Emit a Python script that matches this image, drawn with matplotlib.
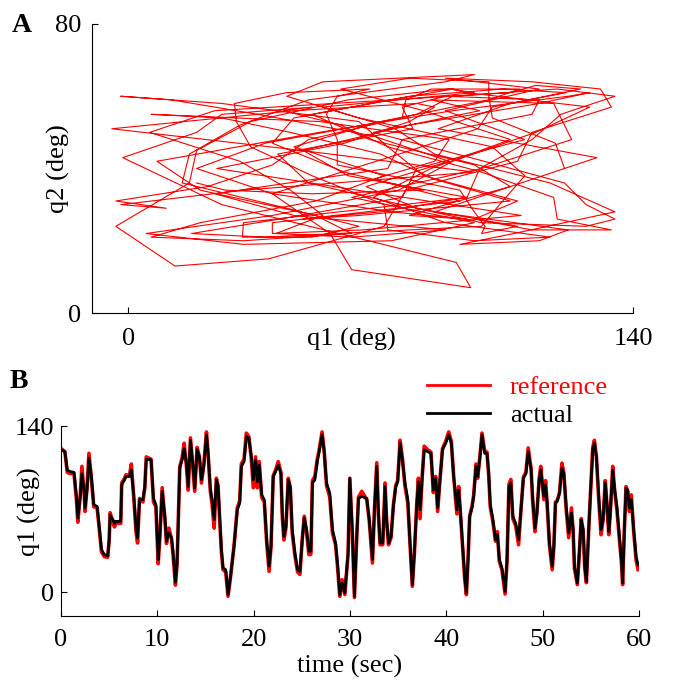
import matplotlib.pyplot as plt
import numpy as np

# time samples (sec)
t = [0.0, 0.4, 0.65, 0.9, 1.35, 1.6, 1.75, 2.0, 2.17, 2.4, 2.5, 2.7, 2.9, 3.15, 3.4, 3.75, 4.0, 4.2, 4.5, 4.85,
     5.0, 5.1, 5.4, 5.55, 5.7, 6.2, 6.3, 6.6, 6.75, 7.1, 7.3, 7.55, 7.8, 7.95, 8.15, 8.5, 8.7, 8.85, 9.35, 9.6, 9.85,
     10.09, 10.26, 10.5, 10.78, 10.95, 11.2, 11.47, 11.64, 11.88, 12.05, 12.33, 12.57, 12.78, 13.02, 13.2, 13.44,
     13.68, 13.88, 14.13, 14.37, 14.58, 14.82, 15.1, 15.27, 15.5, 15.68, 15.9, 16.13, 16.3, 16.47, 16.65, 16.82,
     17.1, 17.34, 17.6, 17.96, 18.3, 18.55, 18.72, 19.0, 19.24, 19.5, 19.76,
     19.96, 20.2, 20.38, 20.58, 20.83, 21.1, 21.35, 21.6, 21.8, 22.03, 22.28, 22.55, 22.83, 22.97, 23.14, 23.35,
     23.59, 23.8, 24.0, 24.28, 24.56, 24.8, 25.04, 25.25, 25.49, 25.73, 25.94, 26.1, 26.35, 26.6, 26.8, 27.1, 27.32,
     27.56, 27.9, 28.18, 28.5, 28.7, 28.94, 29.18, 29.46, 29.8,
     29.98, 30.25, 30.46, 30.7, 30.88, 31.22, 31.74, 32.0, 32.33, 32.54, 32.78, 32.95, 33.12, 33.4, 33.64, 33.8,
     34.0, 34.26, 34.5, 34.75, 34.95, 35.2, 35.44, 35.7, 36.0, 36.23, 36.47, 36.68, 36.92, 37.1, 37.27, 37.5, 37.7,
     38.06, 38.4, 38.65, 38.89, 39.1, 39.34, 39.6, 39.93,
     40.25, 40.52, 40.76, 40.94, 41.1, 41.28, 41.45, 41.7, 41.9, 42.08, 42.25, 42.42, 42.66, 42.84, 43.08, 43.25,
     43.46, 43.7, 43.98, 44.22, 44.4, 44.56, 44.84, 45.1, 45.3, 45.5, 45.77, 46.1, 46.3, 46.5, 46.7, 46.9, 47.2,
     47.5, 47.77, 48.0, 48.26, 48.5, 48.8, 48.95, 49.2, 49.4, 49.64, 49.8,
     50.0, 50.12, 50.3, 50.47, 50.7, 50.99, 51.16, 51.33, 51.5, 51.75, 52.0, 52.2, 52.44, 52.7, 52.99, 53.16,
     53.3, 53.6, 53.8, 54.0, 54.2, 54.37, 54.54, 54.78, 55.0, 55.2, 55.37, 55.58, 55.82, 56.06, 56.27, 56.5, 56.7,
     56.86, 57.0, 57.27, 57.48, 57.7, 57.96, 58.17, 58.3, 58.48, 58.65, 58.83, 59.0, 59.2, 59.45, 59.7, 59.9]

# q1 reference (red)
q1_ref = [121, 118.5, 101, 100, 100, 78, 59, 82, 106, 84, 68, 88, 117, 96, 72, 71, 51, 34, 30, 29.5,
          44, 67, 58, 55, 58, 58, 92, 96, 99, 98, 108, 80, 50, 41.5, 79, 76, 88, 114, 112, 76, 72,
          24, 46, 88, 62, 41, 54, 45, 31, 6, 24, 106, 113, 125.5, 106, 86, 130,
          106, 85, 122, 114, 92, 107, 135, 117, 85, 74, 54, 96, 89, 61, 34, 19,
          17, -3.4, 13, 39, 71, 77, 108, 112, 134, 131, 112,
          88, 114, 88, 110, 80, 76, 42, 17.6, 38, 98, 103, 110, 101, 64, 44, 54,
          96, 88, 50, 31, 17, 15, 44, 64, 51, 31.7, 32, 94, 97.5, 112, 120, 135, 119,
          90, 80, 50, 40, 22, -3.4, 10.6, -2, 32,
          96, 48, -4.5, 46, 80, 85, 78, 60, 24.6, 70, 109, 65, 40, 40, 92, 60,
          40, 46, 73, 90, 94, 128, 113, 90, 75, 40, 5, 32, 73, 96, 62, 98, 123,
          120, 118, 84, 97.5, 68, 95, 121, 127,
          135, 127, 98, 80, 66, 89, 68, 36, 12, -2, 26, 64, 72, 82, 108, 96,
          112, 134, 119, 118, 98, 72, 59, 43, 51, 26, 19, -1.5, 26, 91, 95, 62, 56,
          40, 72, 97, 101, 121.5, 104, 78, 51, 67, 96, 106,
          88, 78, 94, 73, 40, 19, 38, 76, 77, 84, 108.7, 100, 70, 46, 71, 52,
          20, 6.4, 32, 62, 52, 20, 8, 53, 90, 122, 128, 114, 78, 48.5, 61, 94, 70,
          48.5, 64, 106, 85, 70, 45, 26, 6.4, 53, 89, 85, 68, 82, 51, 27, 19]

# q1 actual (black)
q1_act = [120, 118.5, 103, 101.7, 101, 80.7, 62.5, 80.7, 100, 86, 71, 86, 113, 97.5, 73.7, 72.3, 52.7, 36, 31.7, 30.8,
          44, 65, 61, 58, 59.7, 59.7, 90.5, 94.7, 97.5, 97.5, 103, 82, 52.7, 45.6, 78, 78, 89, 112, 111.5, 79, 73.7,
          27.5, 47, 85, 64, 43, 50, 45.7, 33, 8.4, 24.6, 104.5, 111.5, 121, 108.7, 89, 128,
          108.7, 87.7, 120, 114, 94.7, 106, 132.5, 117, 87.7, 78, 61, 94.7, 90.5, 64, 36, 20.4,
          19, -2, 13.4, 38.7, 69.5, 75, 106, 110, 131, 129.7, 114,
          94.7, 111.5, 93, 107, 82, 78, 44, 22, 38.7, 97.5, 101.7, 107, 100, 66.7, 47, 55.5,
          94.7, 89, 52.7, 33, 19, 17.6, 44, 62.5, 52.7, 34.5, 34.5, 92, 94.7, 110, 118.5, 132.5, 118.5,
          92, 83.5, 52.7, 41.5, 24.6, -2, 7.8, -0.6, 33,
          96, 50, -3.4, 47, 79, 80.7, 79, 61, 27.5, 69.5, 106, 66.7, 41.5, 41.5, 89, 61,
          41.5, 47, 72.3, 89, 93, 125.5, 111.5, 92, 78, 41.5, 6.4, 33, 72.3, 93, 69.5, 97.5, 120,
          118.5, 117, 86, 96, 71, 94.7, 120, 125.5,
          132.5, 125.5, 97.5, 83.5, 69.5, 86, 69.5, 38.7, 13.4, -0.6, 27.5, 64, 71, 80.7, 106, 97.5,
          111.5, 132.5, 117, 117, 100, 73.7, 61, 44.3, 48.5, 27.5, 20.4, 0.8, 27.5, 89, 92, 64, 58,
          44.3, 72.3, 96, 100, 118.5, 103, 80.7, 54, 66.7, 94.7, 103,
          89, 80.7, 90.5, 75, 41.5, 21.8, 38.7, 75, 76.5, 83.5, 104.5, 100, 72.3, 50, 66.7, 52.7,
          21.8, 7.8, 33, 61, 52.7, 21.8, 9.2, 52.7, 89, 120, 125.5, 114, 80.7, 52.7, 61, 92, 72.3,
          51, 64, 103, 86, 72.3, 47, 27.5, 7.8, 52.7, 87.7, 86, 71, 78, 52.7, 30, 23]

# q2 reference (estimated from the loops in panel A)
q2_ref = [40, 47, 54, 60, 64, 65, 62, 56, 48, 40, 32, 25, 21, 20, 23, 30, 38, 46, 53, 58,
          61, 62, 60, 55, 48, 41, 34, 28, 24, 22, 24, 29, 36, 44, 51, 57, 60, 59, 55, 48, 40,
          33, 27, 23, 21, 22, 27, 34, 42, 50, 56, 61, 63, 62, 58, 51, 43,
          35, 28, 23, 20, 19, 22, 28, 36, 44, 51, 57, 61, 62, 59, 53, 45,
          36, 24, 13, 15, 24, 34, 42, 50, 57, 62, 64,
          65, 62, 56, 48, 40, 32, 26, 22, 21, 24, 30, 38, 46, 54, 60, 64,
          66, 64, 59, 52, 44, 36, 29, 24, 21, 21, 25, 32, 40, 48, 55, 60, 62,
          60, 55, 48, 41, 35, 31, 29, 30, 34,
          39, 45, 51, 56, 58, 57, 53, 47, 40, 33, 27, 23, 22, 25, 31, 39,
          47, 54, 59, 62, 61, 57, 50, 42, 34, 27, 22, 19, 20, 25, 32, 40, 48,
          54, 58, 59, 56, 50, 43, 36, 30,
          26, 24, 25, 29, 35, 42, 49, 55, 59, 60, 58, 53, 46, 38, 31, 26,
          23, 23, 26, 32, 39, 46, 52, 56, 57, 55, 50, 43, 30, 14, 7, 12, 22,
          33, 43, 51, 57, 61, 62, 60, 55, 48, 41, 35,
          30, 27, 26, 28, 33, 40, 47, 54, 59, 62, 62, 59, 53, 46, 38, 31,
          25, 21, 20, 22, 27, 34, 42, 50, 56, 60, 61, 58, 52, 45, 38, 32, 28,
          26, 27, 31, 37, 44, 50, 54, 55, 53, 48, 42, 37, 34, 33, 34, 36]

plt.rcParams['font.family'] = ['Liberation Serif', 'DejaVu Serif']
plt.rcParams['font.size'] = 19

fig = plt.figure(figsize=(6.78, 6.88), dpi=100)

# ---- panel A ----
axA = fig.add_axes([92/678, 1 - 313/688, 541/678, 289/688])
axA.plot(q1_ref, q2_ref, color='red', lw=0.8)
axA.set_xlim(-10, 140)
axA.set_ylim(0, 80)
axA.set_xticks([0, 140])
axA.set_yticks([0, 80])
axA.tick_params(direction='in', length=4.5, width=0.8)
axA.tick_params(axis='x', pad=11)
axA.tick_params(axis='y', pad=8)
for s in ['top', 'right']:
    axA.spines[s].set_visible(False)
axA.set_xlabel('q1 (deg)')
axA.xaxis.set_label_coords(0.48, -0.05)
axA.set_ylabel('q2 (deg)')
axA.yaxis.set_label_coords(-0.04, 0.5)
fig.text(12/678, 1 - 32/688, 'A', fontsize=20, fontweight='bold')

# ---- panel B ----
axB = fig.add_axes([61/678, 1 - 616/688, 578/678, 190/688])
axB.plot(t, q1_ref, color='red', lw=2.6, label='reference')
axB.plot(t, q1_act, color='black', lw=2.0, label='actual')
axB.set_xlim(0, 60)
axB.set_ylim(-20, 140)
axB.set_xticks([0, 10, 20, 30, 40, 50, 60])
axB.set_yticks([0, 140])
axB.tick_params(direction='in', length=4.5, width=0.8)
axB.tick_params(axis='x', pad=9)
axB.tick_params(axis='y', pad=5)
for s in ['top', 'right']:
    axB.spines[s].set_visible(False)
axB.set_xlabel('time (sec)')
axB.xaxis.set_label_coords(0.5, -0.205)
axB.set_ylabel('q1 (deg)')
axB.yaxis.set_label_coords(-0.035, 0.55)
leg = axB.legend(loc='upper left', bbox_to_anchor=(0.633, 1.265), frameon=False,
                 handlelength=2.4, handletextpad=0.75, labelspacing=0.18,
                 borderpad=0, borderaxespad=0, labelcolor='linecolor')
for line in leg.get_lines():
    line.set_linewidth(2.0)
fig.text(10/678, 1 - 388/688, 'B', fontsize=20, fontweight='bold')

fig.savefig('out.png', dpi=100)
